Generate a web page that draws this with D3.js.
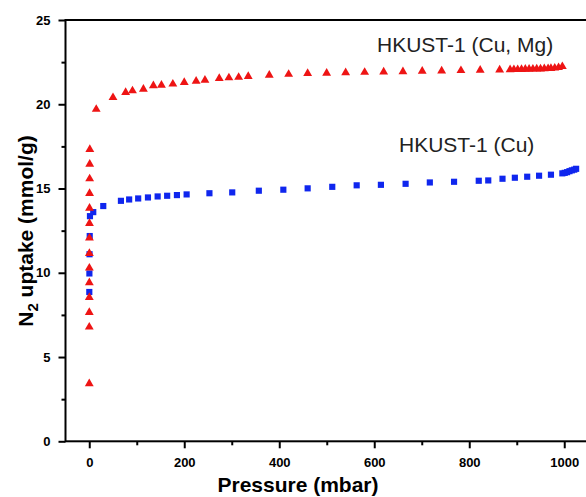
<!DOCTYPE html>
<html>
<head>
<meta charset="utf-8">
<script src="https://cdn.jsdelivr.net/npm/d3@7"></script>
<style>
  body { margin: 0; background: #fff; }
  text { font-family: Arial, "Liberation Sans", sans-serif; }
</style>
</head>
<body>
<div id="svg-area"></div>
<script>
// data: pressure (mbar) and N2 uptake (mmol/g)
var cuMgPressure = [0.01, 0.05, 0.08, 0.12, 0.17, 0.23, 0.3, 0.38, 0.47, 0.58, 0.7, 0.85, 1.0, 1.2,
  14.7, 50, 76.6, 91, 114, 135, 152, 176, 200, 225, 243.6, 273.7, 294, 314.5, 334.7, 379, 419.8,
  459.8, 499.8, 539.8, 579.8, 619.8, 660.4, 701, 741.9, 782.5, 823, 864,
  886, 894, 902, 910, 918, 926, 934, 942, 950, 958, 966, 972, 980, 988, 996];
var cuMgUptake = [3.42, 6.78, 7.65, 8.54, 9.41, 10.28, 11.15, 12.06, 12.93, 13.84, 14.71, 15.58, 16.45, 17.32,
  19.7, 20.4, 20.7, 20.8, 20.9, 21.1, 21.13, 21.2, 21.3, 21.37, 21.43, 21.53, 21.57, 21.6, 21.65, 21.73, 21.78,
  21.83, 21.85, 21.88, 21.9, 21.92, 21.94, 21.96, 21.98, 22.0, 22.02, 22.04,
  22.05, 22.06, 22.06, 22.07, 22.08, 22.08, 22.09, 22.1, 22.1, 22.11, 22.12, 22.13, 22.15, 22.18, 22.24];

var cuPressure = [0.1, 0.3, 0.6, 1.0, 1.5, 8.4, 29.5, 66.7, 84, 103, 123.6, 144, 164, 184.6, 205,
  253, 301, 357, 408.6, 459.8, 511.6, 563, 614, 666, 717, 768, 820, 840, 870, 896, 922, 947, 972,
  996, 1001, 1006, 1011, 1016, 1021, 1025];
var cuUptake = [8.86, 9.96, 11.1, 12.18, 13.36, 13.6, 13.96, 14.27, 14.35, 14.41, 14.47, 14.53, 14.57, 14.61, 14.65,
  14.72, 14.77, 14.87, 14.93, 15.01, 15.1, 15.19, 15.22, 15.28, 15.36, 15.4, 15.46, 15.48, 15.58, 15.64, 15.7, 15.76, 15.82,
  15.9, 15.93, 15.97, 16.03, 16.08, 16.12, 16.17];

var xTicks = [0, 200, 400, 600, 800, 1000];
var xMinorTicks = [100, 300, 500, 700, 900];
var yTicks = [0, 5, 10, 15, 20, 25];
var yMinorTicks = [2.5, 7.5, 12.5, 17.5, 22.5];

var svgWidth = 586;
var svgHeight = 497;

var svg = d3.select("#svg-area")
  .append("svg")
  .attr("width", svgWidth)
  .attr("height", svgHeight);

// scales
var xScale = d3.scaleLinear()
  .domain([-50, 1050])
  .range([65.5, 588]);

var yScale = d3.scaleLinear()
  .domain([0, 25])
  .range([441.3, 20]);

// frame
svg.append("rect")
  .attr("x", xScale(-50))
  .attr("y", yScale(25))
  .attr("width", xScale(1050) - xScale(-50))
  .attr("height", yScale(0) - yScale(25))
  .attr("fill", "none")
  .attr("stroke", "#000")
  .attr("stroke-width", 2);

// axes
var bottomAxis = d3.axisBottom(xScale)
  .tickValues(xTicks)
  .tickSize(7)
  .tickSizeOuter(0)
  .tickPadding(9)
  .tickFormat(d3.format("d"));

var bottomMinor = d3.axisBottom(xScale)
  .tickValues(xMinorTicks)
  .tickSize(4)
  .tickSizeOuter(0)
  .tickFormat("");

var leftAxis = d3.axisLeft(yScale)
  .tickValues(yTicks)
  .tickSize(7)
  .tickSizeOuter(0)
  .tickPadding(8);

var leftMinor = d3.axisLeft(yScale)
  .tickValues(yMinorTicks)
  .tickSize(4)
  .tickSizeOuter(0)
  .tickFormat("");

function styleAxis(g) {
  g.select(".domain").remove();
  g.selectAll(".tick line").attr("stroke", "#000").attr("stroke-width", 2);
  g.selectAll(".tick text")
    .attr("fill", "#000")
    .style("font-size", "13px")
    .style("font-weight", "bold")
    .style("font-family", "Arial, 'Liberation Sans', sans-serif");
}

svg.append("g").attr("transform", `translate(0, ${yScale(0)})`).call(bottomAxis).call(styleAxis);
svg.append("g").attr("transform", `translate(0, ${yScale(0)})`).call(bottomMinor).call(styleAxis);
svg.append("g").attr("transform", `translate(${xScale(-50)}, 0)`).call(leftAxis).call(styleAxis);
svg.append("g").attr("transform", `translate(${xScale(-50)}, 0)`).call(leftMinor).call(styleAxis);

// markers
var cuMgData = cuMgPressure.map((p, i) => ({ p: p, v: cuMgUptake[i] }));
var cuData = cuPressure.map((p, i) => ({ p: p, v: cuUptake[i] }));

svg.append("g").selectAll("path")
  .data(cuData)
  .enter()
  .append("path")
  .attr("d", d3.symbol().type(d3.symbolSquare).size(38))
  .attr("transform", d => `translate(${xScale(d.p)}, ${yScale(d.v)})`)
  .attr("fill", "#0f26ee");

svg.append("g").selectAll("path")
  .data(cuMgData)
  .enter()
  .append("path")
  .attr("d", d3.symbol().type(d3.symbolTriangle).size(34))
  .attr("transform", d => `translate(${xScale(d.p)}, ${yScale(d.v)})`)
  .attr("fill", "#ee1414");

// series labels
svg.append("text")
  .attr("x", 377)
  .attr("y", 52)
  .attr("fill", "#222")
  .style("font-size", "21px")
  .text("HKUST-1 (Cu, Mg)");

svg.append("text")
  .attr("x", 399)
  .attr("y", 152)
  .attr("fill", "#222")
  .style("font-size", "21px")
  .text("HKUST-1 (Cu)");

// axis titles
var yTitle = svg.append("text")
  .attr("transform", "translate(33, 231) rotate(-90)")
  .attr("text-anchor", "middle")
  .style("font-size", "21px")
  .style("font-weight", "bold");
yTitle.append("tspan").text("N");
yTitle.append("tspan").attr("dy", 5).style("font-size", "15px").text("2");
yTitle.append("tspan").attr("dy", -5).text(" uptake (mmol/g)");

svg.append("text")
  .attr("x", 298)
  .attr("y", 492)
  .attr("text-anchor", "middle")
  .style("font-size", "21px")
  .style("font-weight", "bold")
  .text("Pressure (mbar)");
</script>
</body>
</html>
